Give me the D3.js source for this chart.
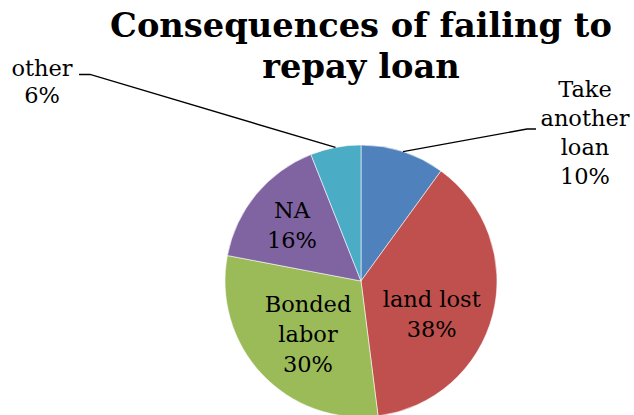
<!DOCTYPE html>
<html>
<head>
<meta charset="utf-8">
<script src="https://cdn.jsdelivr.net/npm/d3@7"></script>
<style>
  html, body { margin: 0; padding: 0; background: #fff; }
  svg { display: block; }
</style>
</head>
<body>
<svg id="chart" width="634" height="415"></svg>
<script>
// ---- data ----
const categories = ["Take another loan", "land lost", "Bonded labor", "NA", "other"];
const values = [10, 38, 30, 16, 6];
const labelLines = [["Take", "another", "loan"], ["land lost"], ["Bonded", "labor"], ["NA"], ["other"]];
const colors = ["#4F81BD", "#C0504D", "#9BBB59", "#8064A2", "#4BACC6"];
const titleLines = ["Consequences of failing to", "repay loan"];

// ---- layout ----
const W = 634, H = 415;
const cx = 361, cy = 281, R = 136;
const svg = d3.select("#chart");
const serif = "'DejaVu Serif', 'Liberation Serif', serif";

// title
const title = svg.append("g").attr("font-family", serif).attr("font-weight", "bold").attr("fill", "#000");
const t1 = title.append("text").attr("x", cx).attr("y", 37).attr("text-anchor", "middle").attr("font-size", 32).text(titleLines[0]);
let w = t1.node().getComputedTextLength();
const fs = 32 * 502 / w;
t1.attr("font-size", fs);
title.append("text").attr("x", cx).attr("y", 78).attr("text-anchor", "middle").attr("font-size", fs).text(titleLines[1]);

// pie
const data = categories.map((c, i) => ({ cat: c, value: values[i], lines: labelLines[i], color: colors[i] }));
const pie = d3.pie().value(d => d.value).sort(null);
const arcs = pie(data);
const arc = d3.arc().innerRadius(0).outerRadius(R);
const g = svg.append("g").attr("transform", `translate(${cx},${cy})`);
g.selectAll("path").data(arcs).join("path")
  .attr("d", arc)
  .attr("fill", d => d.data.color)
  .attr("stroke", "#ffffff")
  .attr("stroke-opacity", 0.7)
  .attr("stroke-width", 0.8);

const lfs = 22.5;
const fmt = d => d3.format(".0f")(d.value / d3.sum(values) * 100) + "%";

// inside labels: positioned by centroid at chosen radius
const inside = { "land lost": { r: 73, dy: 15 }, "Bonded labor": { r: 72.7, dy: 4 }, "NA": { r: 89.6, dy: 2 } };
const lh = 30;
arcs.forEach(a => {
  const cfg = inside[a.data.cat];
  if (!cfg) return;
  const c = d3.arc().innerRadius(cfg.r).outerRadius(cfg.r).centroid(a);
  const lines = a.data.lines.concat([fmt(a)]);
  const n = lines.length;
  const x = cx + c[0], yc = cy + c[1] + cfg.dy;
  const t = svg.append("text").attr("font-family", serif).attr("font-size", lfs).attr("fill", "#000").attr("text-anchor", "middle");
  lines.forEach((s, i) => {
    t.append("tspan").attr("x", x).attr("y", yc + (i - (n - 1) / 2) * lh + 7.5).text(s);
  });
});

// outside labels with leader lines
function edgePoint(a) {
  const m = (a.startAngle + a.endAngle) / 2;
  return [cx + R * Math.sin(m), cy - R * Math.cos(m)];
}
const lineG = svg.append("g").attr("stroke", "#000").attr("stroke-width", 1.3).attr("fill", "none");

// Take another loan
{
  const a = arcs[0];
  const p = edgePoint(a);
  lineG.append("polyline").attr("points", [p, [527, 129], [536, 129]].map(q => q.join(",")).join(" "));
  const lines = a.data.lines.concat([fmt(a)]);
  const t = svg.append("text").attr("font-family", serif).attr("font-size", lfs).attr("fill", "#000").attr("text-anchor", "middle");
  lines.forEach((s, i) => t.append("tspan").attr("x", 585).attr("y", 97 + i * 29).text(s));
}
// other
{
  const a = arcs[4];
  const p = edgePoint(a);
  lineG.append("polyline").attr("points", [p, [90, 74.5], [79, 74.5]].map(q => q.join(",")).join(" "));
  const lines = a.data.lines.concat([fmt(a)]);
  const t = svg.append("text").attr("font-family", serif).attr("font-size", lfs).attr("fill", "#000").attr("text-anchor", "middle");
  lines.forEach((s, i) => t.append("tspan").attr("x", 42).attr("y", 76 + i * 27).text(s));
}
</script>
</body>
</html>
